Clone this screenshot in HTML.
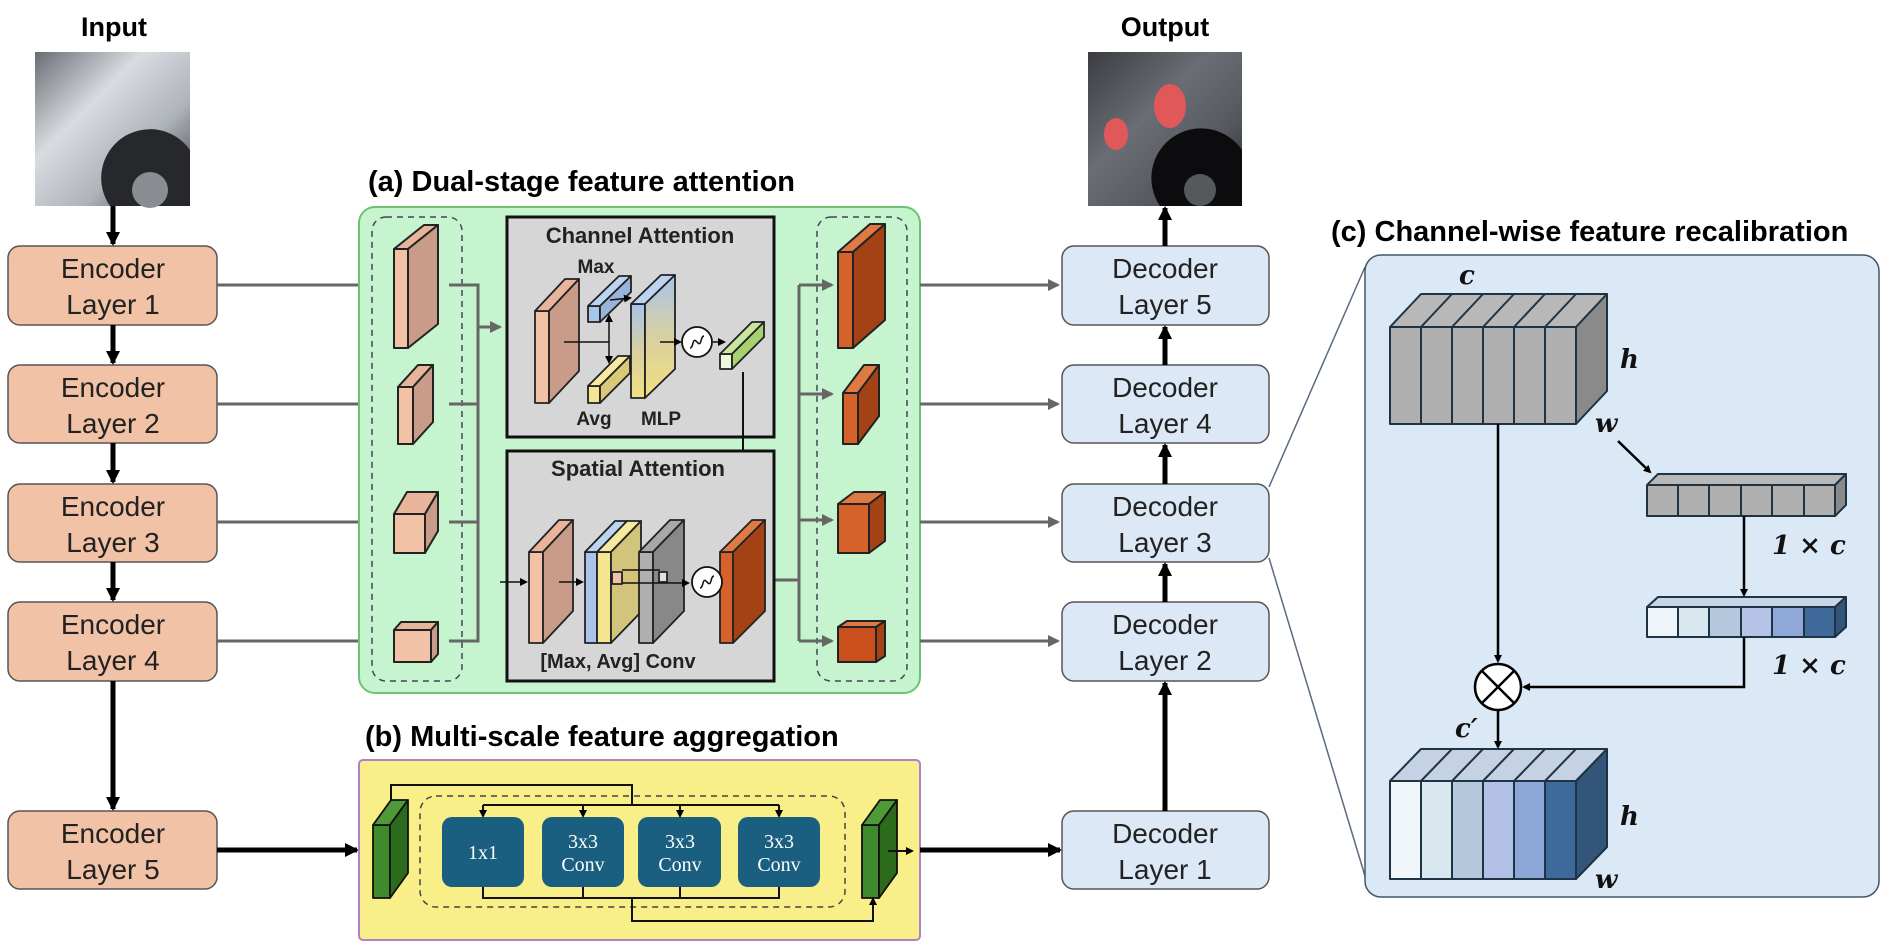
<!DOCTYPE html>
<html><head><meta charset="utf-8"><style>html,body{margin:0;padding:0;background:#fff}svg{display:block}</style></head><body>
<svg width="1881" height="944" viewBox="0 0 1881 944" xmlns="http://www.w3.org/2000/svg" font-family="Liberation Sans, Arial, sans-serif">
<defs>
<marker id="ab" markerWidth="8" markerHeight="8" refX="6" refY="4" orient="auto" markerUnits="userSpaceOnUse"><path d="M0,0 L8,4 L0,8 z" fill="#000"/></marker>
<marker id="abL" markerWidth="14" markerHeight="14" refX="12" refY="7" orient="auto" markerUnits="userSpaceOnUse"><path d="M0,0 L14,7 L0,14 z" fill="#000"/></marker>
<marker id="ag" markerWidth="12" markerHeight="12" refX="10" refY="6" orient="auto" markerUnits="userSpaceOnUse"><path d="M0,0 L12,6 L0,12 z" fill="#666"/></marker>
<linearGradient id="mlp" x1="0" y1="0" x2="0" y2="1"><stop offset="0" stop-color="#a8c4ea"/><stop offset="0.5" stop-color="#d8d0a0"/><stop offset="1" stop-color="#f2e080"/></linearGradient>
<linearGradient id="img1" x1="0" y1="0" x2="1" y2="1"><stop offset="0" stop-color="#6a6e74"/><stop offset="0.35" stop-color="#d8dbe0"/><stop offset="0.65" stop-color="#b0b4bb"/><stop offset="1" stop-color="#3a3c40"/></linearGradient>
<linearGradient id="img2" x1="0" y1="0" x2="1" y2="1"><stop offset="0" stop-color="#3a3c40"/><stop offset="0.4" stop-color="#6a6e74"/><stop offset="0.7" stop-color="#55585e"/><stop offset="1" stop-color="#202226"/></linearGradient>
</defs>

<!-- Input / Output -->
<text x="114" y="36" font-size="27" font-weight="bold" text-anchor="middle">Input</text>
<rect x="35" y="52" width="155" height="154" fill="url(#img1)"/>
<path d="M110,206 A48,48 0 0 1 190,150 L190,206 Z" fill="#26282c"/>
<circle cx="150" cy="190" r="18" fill="#8a8d92"/>
<text x="1165" y="36" font-size="27" font-weight="bold" text-anchor="middle">Output</text>
<rect x="1088" y="52" width="154" height="154" fill="url(#img2)"/>
<path d="M1160,206 A48,48 0 0 1 1242,150 L1242,206 Z" fill="#0c0c0e"/>
<circle cx="1200" cy="190" r="16" fill="#55585c"/>
<ellipse cx="1116" cy="134" rx="12" ry="16" fill="#e0585a"/><ellipse cx="1170" cy="106" rx="16" ry="22" fill="#e0585a"/>

<!-- Encoders -->
<g stroke="#555" stroke-width="1.5" fill="#f2c2a6">
<rect x="8" y="246" width="209" height="79" rx="12"/>
<rect x="8" y="365" width="209" height="78" rx="12"/>
<rect x="8" y="484" width="209" height="78" rx="12"/>
<rect x="8" y="602" width="209" height="79" rx="12"/>
<rect x="8" y="811" width="209" height="78" rx="12"/>
</g>
<g font-size="28" text-anchor="middle" fill="#222">
<text x="113" y="278">Encoder</text><text x="113" y="314">Layer 1</text>
<text x="113" y="397">Encoder</text><text x="113" y="433">Layer 2</text>
<text x="113" y="516">Encoder</text><text x="113" y="552">Layer 3</text>
<text x="113" y="634">Encoder</text><text x="113" y="670">Layer 4</text>
<text x="113" y="843">Encoder</text><text x="113" y="879">Layer 5</text>
</g>
<g stroke="#000" stroke-width="5" marker-end="url(#abL)">
<line x1="113" y1="206" x2="113" y2="244"/>
<line x1="113" y1="325" x2="113" y2="363"/>
<line x1="113" y1="443" x2="113" y2="482"/>
<line x1="113" y1="562" x2="113" y2="600"/>
<line x1="113" y1="681" x2="113" y2="809"/>
<line x1="217" y1="850" x2="357" y2="850"/>
</g>
<g stroke="#666" stroke-width="3">
<line x1="217" y1="285" x2="359" y2="285"/><line x1="217" y1="404" x2="359" y2="404"/>
<line x1="217" y1="522" x2="359" y2="522"/><line x1="217" y1="641" x2="359" y2="641"/>
</g>

<!-- (a) -->
<text x="368" y="191" font-size="29" font-weight="bold">(a) Dual-stage feature attention</text>
<rect x="359" y="207" width="561" height="486" rx="16" fill="#c5f4ce" stroke="#6cc472" stroke-width="2"/>
<rect x="372" y="217" width="90" height="464" rx="14" fill="none" stroke="#445" stroke-width="1.5" stroke-dasharray="6,5"/>
<rect x="817" y="217" width="90" height="464" rx="14" fill="none" stroke="#445" stroke-width="1.5" stroke-dasharray="6,5"/>

<g stroke="#222" stroke-width="2" stroke-linejoin="round">
<rect x="394" y="249" width="14" height="99" fill="#f2c2a6"/><polygon points="394,249 424,225 438,225 408,249" fill="#e8b49a"/><polygon points="408,249 438,225 438,324 408,348" fill="#c89c88"/>
<rect x="398" y="387" width="15" height="57" fill="#f2c2a6"/><polygon points="398,387 418,365 433,365 413,387" fill="#e8b49a"/><polygon points="413,387 433,365 433,422 413,444" fill="#c89c88"/>
<rect x="394" y="514" width="31" height="39" fill="#f2c2a6"/><polygon points="394,514 407,492 438,492 425,514" fill="#e8b49a"/><polygon points="425,514 438,492 438,531 425,553" fill="#c89c88"/>
<rect x="394" y="630" width="37" height="32" fill="#f2c2a6"/><polygon points="394,630 401,622 438,622 431,630" fill="#e8b49a"/><polygon points="431,630 438,622 438,654 431,662" fill="#c89c88"/>
<rect x="838" y="252" width="15" height="96" fill="#d4622a"/><polygon points="838,252 870,224 885,224 853,252" fill="#e07a45"/><polygon points="853,252 885,224 885,320 853,348" fill="#a34214"/>
<rect x="843" y="393" width="15" height="51" fill="#d4622a"/><polygon points="843,393 864,365 879,365 858,393" fill="#e07a45"/><polygon points="858,393 879,365 879,416 858,444" fill="#a34214"/>
<rect x="838" y="504" width="31" height="49" fill="#d4622a"/><polygon points="838,504 854,492 885,492 869,504" fill="#e07a45"/><polygon points="869,504 885,492 885,541 869,553" fill="#a34214"/>
<rect x="838" y="627" width="38" height="35" fill="#c9501c"/><polygon points="838,627 847,621 885,621 876,627" fill="#e07a45"/><polygon points="876,627 885,621 885,656 876,662" fill="#a34214"/>
</g>

<g stroke="#666" stroke-width="3" fill="none">
<polyline points="449,285 478,285 478,641 449,641"/>
<line x1="449" y1="404" x2="478" y2="404"/><line x1="449" y1="522" x2="478" y2="522"/>
<line x1="478" y1="327" x2="500" y2="327" marker-end="url(#ag)"/>
<polyline points="774,580 799,580"/>
<line x1="799" y1="285" x2="799" y2="641"/>
<line x1="799" y1="285" x2="832" y2="285" marker-end="url(#ag)"/>
<line x1="799" y1="394" x2="832" y2="394" marker-end="url(#ag)"/>
<line x1="799" y1="520" x2="832" y2="520" marker-end="url(#ag)"/>
<line x1="799" y1="641" x2="832" y2="641" marker-end="url(#ag)"/>
<line x1="920" y1="285" x2="1058" y2="285" marker-end="url(#ag)"/>
<line x1="920" y1="404" x2="1058" y2="404" marker-end="url(#ag)"/>
<line x1="920" y1="522" x2="1058" y2="522" marker-end="url(#ag)"/>
<line x1="920" y1="641" x2="1058" y2="641" marker-end="url(#ag)"/>
</g>

<!-- Channel attention -->
<rect x="507" y="217" width="267" height="220" fill="#d6d6d6" stroke="#111" stroke-width="3"/>
<text x="640" y="243" font-size="22" font-weight="bold" text-anchor="middle" fill="#222">Channel Attention</text>
<g stroke="#222" stroke-width="1.8" stroke-linejoin="round">
<rect x="535" y="311" width="14" height="92" fill="#f2c2a6"/><polygon points="535,311 565,279 579,279 549,311" fill="#e8b49a"/><polygon points="549,311 579,279 579,371 549,403" fill="#c89c88"/>
<rect x="588" y="306" width="12" height="16" fill="#a9c6ea"/><polygon points="588,306 619,276 631,276 600,306" fill="#bcd4f0"/><polygon points="600,306 631,276 631,292 600,322" fill="#98b4d8"/>
<rect x="588" y="386" width="12" height="17" fill="#f5e590"/><polygon points="588,386 618,356 630,356 600,386" fill="#f7eaa0"/><polygon points="600,386 630,356 630,373 600,403" fill="#d8c878"/>
<rect x="631" y="304" width="14" height="94" fill="url(#mlp)"/><polygon points="631,304 661,275 675,275 645,304" fill="#bcd4f0"/><polygon points="645,304 675,275 675,369 645,398" fill="url(#mlp)"/>
<rect x="720" y="354" width="12" height="15" fill="#eef8e0"/><polygon points="720,354 752,322 764,322 732,354" fill="#c8e6a0"/><polygon points="732,354 764,322 764,337 732,369" fill="#a8d070"/>
</g>
<g font-size="19" font-weight="bold" fill="#222" text-anchor="middle">
<text x="596" y="273">Max</text><text x="594" y="425">Avg</text><text x="661" y="425">MLP</text>
</g>
<g stroke="#111" stroke-width="1.5" fill="none">
<line x1="564" y1="342" x2="609" y2="342"/>
<line x1="609" y1="330" x2="609" y2="316" marker-end="url(#ab)"/>
<line x1="609" y1="330" x2="609" y2="362" marker-end="url(#ab)"/>
<line x1="610" y1="300" x2="630" y2="298" marker-end="url(#ab)"/>
<line x1="660" y1="342" x2="680" y2="342" marker-end="url(#ab)"/>
<line x1="713" y1="342" x2="724" y2="342" marker-end="url(#ab)"/>
</g>
<circle cx="697" cy="342" r="15" fill="#fff" stroke="#111" stroke-width="1.8"/>
<path d="M690,348 C694,348 692,336 697,342 C702,348 700,336 704,336" fill="none" stroke="#111" stroke-width="1.5"/>
<polyline points="743,372 743,489 622,489 622,515" fill="none" stroke="#111" stroke-width="2" marker-end="url(#ab)"/>

<!-- Spatial attention -->
<rect x="507" y="451" width="267" height="230" fill="#d6d6d6" stroke="#111" stroke-width="3"/>
<text x="638" y="476" font-size="22" font-weight="bold" text-anchor="middle" fill="#222">Spatial Attention</text>
<g stroke="#222" stroke-width="1.8" stroke-linejoin="round">
<rect x="529" y="552" width="14" height="91" fill="#f2c2a6"/><polygon points="529,552 559,520 573,520 543,552" fill="#e8b49a"/><polygon points="543,552 573,520 573,611 543,643" fill="#c89c88"/>
<rect x="585" y="552" width="12" height="91" fill="#a9c6ea"/><polygon points="585,552 615,521 627,521 597,552" fill="#bcd4f0"/>
<rect x="597" y="552" width="14" height="91" fill="#f5e590"/><polygon points="597,552 627,521 641,521 611,552" fill="#f7eaa0"/><polygon points="611,552 641,521 641,612 611,643" fill="#d2c47a"/>
<rect x="639" y="552" width="14" height="91" fill="#b0b0b0"/><polygon points="639,552 670,520 684,520 653,552" fill="#a8a8a8"/><polygon points="653,552 684,520 684,611 653,643" fill="#888"/>
<rect x="720" y="552" width="13" height="91" fill="#d4622a"/><polygon points="720,552 752,520 765,520 733,552" fill="#e07a45"/><polygon points="733,552 765,520 765,611 733,643" fill="#a34214"/>
<rect x="612" y="572" width="10" height="12" fill="#f2c2a6"/><rect x="659" y="572" width="8" height="10" fill="#e0e0e0"/>
</g>
<g stroke="#111" stroke-width="1.5" fill="none">
<line x1="500" y1="582" x2="526" y2="582" marker-end="url(#ab)"/>
<line x1="559" y1="582" x2="582" y2="582" marker-end="url(#ab)"/>
<polyline points="622,570 660,570"/>
<line x1="622" y1="583" x2="688" y2="583" marker-end="url(#ab)"/>
</g>
<circle cx="707" cy="582" r="15" fill="#fff" stroke="#111" stroke-width="1.8"/>
<path d="M700,588 C704,588 702,576 707,582 C712,588 710,576 714,576" fill="none" stroke="#111" stroke-width="1.5"/>
<text x="618" y="668" font-size="20" font-weight="bold" text-anchor="middle" fill="#222">[Max, Avg]  Conv</text>

<!-- (b) -->
<text x="365" y="746" font-size="29" font-weight="bold">(b) Multi-scale feature aggregation</text>
<rect x="359" y="760" width="561" height="180" rx="4" fill="#f8ef88" stroke="#b080c8" stroke-width="2"/>
<rect x="420" y="796" width="425" height="111" rx="16" fill="none" stroke="#444" stroke-width="1.5" stroke-dasharray="6,5"/>
<g stroke="#111" stroke-width="1.8" stroke-linejoin="round">
<rect x="373" y="825" width="17" height="73" fill="#3f8a2a"/><polygon points="373,825 391,800 408,800 390,825" fill="#4e9a36"/><polygon points="390,825 408,800 408,873 390,898" fill="#2c6a1c"/>
<rect x="862" y="825" width="17" height="73" fill="#3f8a2a"/><polygon points="862,825 880,800 897,800 879,825" fill="#4e9a36"/><polygon points="879,825 897,800 897,873 879,898" fill="#2c6a1c"/>
</g>
<g fill="#1a5e80">
<rect x="442" y="817" width="82" height="70" rx="10"/>
<rect x="542" y="817" width="82" height="70" rx="10"/>
<rect x="638" y="817" width="83" height="70" rx="10"/>
<rect x="738" y="817" width="82" height="70" rx="10"/>
</g>
<g fill="#fff" font-family="Liberation Serif, serif" font-size="20" text-anchor="middle">
<text x="483" y="859">1x1</text>
<text x="583" y="848">3x3</text><text x="583" y="871">Conv</text>
<text x="680" y="848">3x3</text><text x="680" y="871">Conv</text>
<text x="779" y="848">3x3</text><text x="779" y="871">Conv</text>
</g>
<g stroke="#111" stroke-width="2" fill="none">
<polyline points="391,800 391,785 632,785 632,805"/>
<line x1="483" y1="805" x2="779" y2="805"/>
<line x1="483" y1="805" x2="483" y2="816" marker-end="url(#ab)"/>
<line x1="583" y1="805" x2="583" y2="816" marker-end="url(#ab)"/>
<line x1="680" y1="805" x2="680" y2="816" marker-end="url(#ab)"/>
<line x1="779" y1="805" x2="779" y2="816" marker-end="url(#ab)"/>
<polyline points="483,887 483,898 779,898 779,887"/>
<line x1="583" y1="887" x2="583" y2="898"/><line x1="680" y1="887" x2="680" y2="898"/>
<polyline points="632,898 632,921 873,921 873,899" marker-end="url(#ab)"/>
<line x1="888" y1="851" x2="912" y2="851" marker-end="url(#ab)"/>
</g>
<line x1="920" y1="850" x2="1060" y2="850" stroke="#000" stroke-width="5" marker-end="url(#abL)"/>

<!-- Decoders -->
<g stroke="#555" stroke-width="1.5" fill="#dce8f6">
<rect x="1062" y="246" width="207" height="79" rx="12"/>
<rect x="1062" y="365" width="207" height="78" rx="12"/>
<rect x="1062" y="484" width="207" height="78" rx="12"/>
<rect x="1062" y="602" width="207" height="79" rx="12"/>
<rect x="1062" y="811" width="207" height="78" rx="12"/>
</g>
<g font-size="28" text-anchor="middle" fill="#222">
<text x="1165" y="278">Decoder</text><text x="1165" y="314">Layer 5</text>
<text x="1165" y="397">Decoder</text><text x="1165" y="433">Layer 4</text>
<text x="1165" y="516">Decoder</text><text x="1165" y="552">Layer 3</text>
<text x="1165" y="634">Decoder</text><text x="1165" y="670">Layer 2</text>
<text x="1165" y="843">Decoder</text><text x="1165" y="879">Layer 1</text>
</g>
<g stroke="#000" stroke-width="5" marker-end="url(#abL)">
<line x1="1165" y1="246" x2="1165" y2="208"/>
<line x1="1165" y1="365" x2="1165" y2="327"/>
<line x1="1165" y1="484" x2="1165" y2="445"/>
<line x1="1165" y1="602" x2="1165" y2="564"/>
<line x1="1165" y1="811" x2="1165" y2="683"/>
</g>

<!-- (c) -->
<line x1="1269" y1="487" x2="1365" y2="267" stroke="#5a6a80" stroke-width="1.5"/>
<line x1="1269" y1="558" x2="1365" y2="876" stroke="#5a6a80" stroke-width="1.5"/>
<text x="1331" y="241" font-size="29" font-weight="bold">(c) Channel-wise feature recalibration</text>
<rect x="1365" y="255" width="514" height="642" rx="16" fill="#dbe8f6" stroke="#445566" stroke-width="1.5"/>

<g stroke="#1e3344" stroke-width="2" stroke-linejoin="round">
<polygon points="1390,327 1421,294 1607,294 1576,327" fill="#b8b8b8"/>
<polygon points="1576,327 1607,294 1607,391 1576,424" fill="#8a8a8a"/>
<rect x="1390" y="327" width="186" height="97" fill="#b0b0b0"/>
<path d="M1421,327 V424 M1452,327 V424 M1483,327 V424 M1514,327 V424 M1545,327 V424 M1421,327 L1452,294 M1452,327 L1483,294 M1483,327 L1514,294 M1514,327 L1545,294 M1545,327 L1576,294" fill="none"/>
<polygon points="1647,485 1658,474 1846,474 1835,485" fill="#b8b8b8"/>
<polygon points="1835,485 1846,474 1846,505 1835,516" fill="#8a8a8a"/>
<rect x="1647" y="485" width="188" height="31" fill="#b0b0b0"/>
<path d="M1678,485 V516 M1709,485 V516 M1741,485 V516 M1772,485 V516 M1804,485 V516" fill="none"/>
<polygon points="1647,607 1658,597 1846,597 1835,607" fill="#c8d6e8"/>
<polygon points="1835,607 1846,597 1846,627 1835,637" fill="#33557a"/>
<rect x="1647" y="607" width="31" height="30" fill="#eef5fa"/>
<rect x="1678" y="607" width="31" height="30" fill="#d8e8ee"/>
<rect x="1709" y="607" width="32" height="30" fill="#b5c9de"/>
<rect x="1741" y="607" width="31" height="30" fill="#b5c3e6"/>
<rect x="1772" y="607" width="32" height="30" fill="#8fa8d8"/>
<rect x="1804" y="607" width="31" height="30" fill="#3f6a9a"/>
<polygon points="1390,781 1421,749 1607,749 1576,781" fill="#c4d2e4"/>
<polygon points="1576,781 1607,749 1607,847 1576,879" fill="#33557a"/>
<rect x="1390" y="781" width="31" height="98" fill="#f0f6fa"/>
<rect x="1421" y="781" width="31" height="98" fill="#d8e8ee"/>
<rect x="1452" y="781" width="31" height="98" fill="#b4c8de"/>
<rect x="1483" y="781" width="31" height="98" fill="#b3c1e6"/>
<rect x="1514" y="781" width="31" height="98" fill="#8ea7d9"/>
<rect x="1545" y="781" width="31" height="98" fill="#3e6a9b"/>
<path d="M1421,781 L1452,749 M1452,781 L1483,749 M1483,781 L1514,749 M1514,781 L1545,749 M1545,781 L1576,749" fill="none"/>
</g>
<g stroke="#000" stroke-width="2.5" fill="none">
<line x1="1498" y1="424" x2="1498" y2="661" marker-end="url(#ab)"/>
<line x1="1618" y1="441" x2="1650" y2="472" marker-end="url(#ab)"/>
<line x1="1744" y1="516" x2="1744" y2="595" marker-end="url(#ab)"/>
<polyline points="1744,637 1744,687 1524,687" marker-end="url(#ab)"/>
<line x1="1498" y1="711" x2="1498" y2="747" marker-end="url(#ab)"/>
</g>
<circle cx="1498" cy="687" r="23" fill="#fff" stroke="#000" stroke-width="2.5"/>
<path d="M1482,671 L1514,703 M1514,671 L1482,703" stroke="#000" stroke-width="2.5"/>
<g font-family="DejaVu Serif, Liberation Serif, serif" font-weight="bold" font-style="italic" font-size="26" fill="#111">
<text x="1459" y="284">c</text>
<text x="1620" y="368">h</text>
<text x="1595" y="432">w</text>
<text x="1772" y="554">1 × c</text>
<text x="1772" y="674">1 × c</text>
<text x="1455" y="737">c′</text>
<text x="1620" y="825">h</text>
<text x="1595" y="888">w</text>
</g>
</svg>
</body></html>
